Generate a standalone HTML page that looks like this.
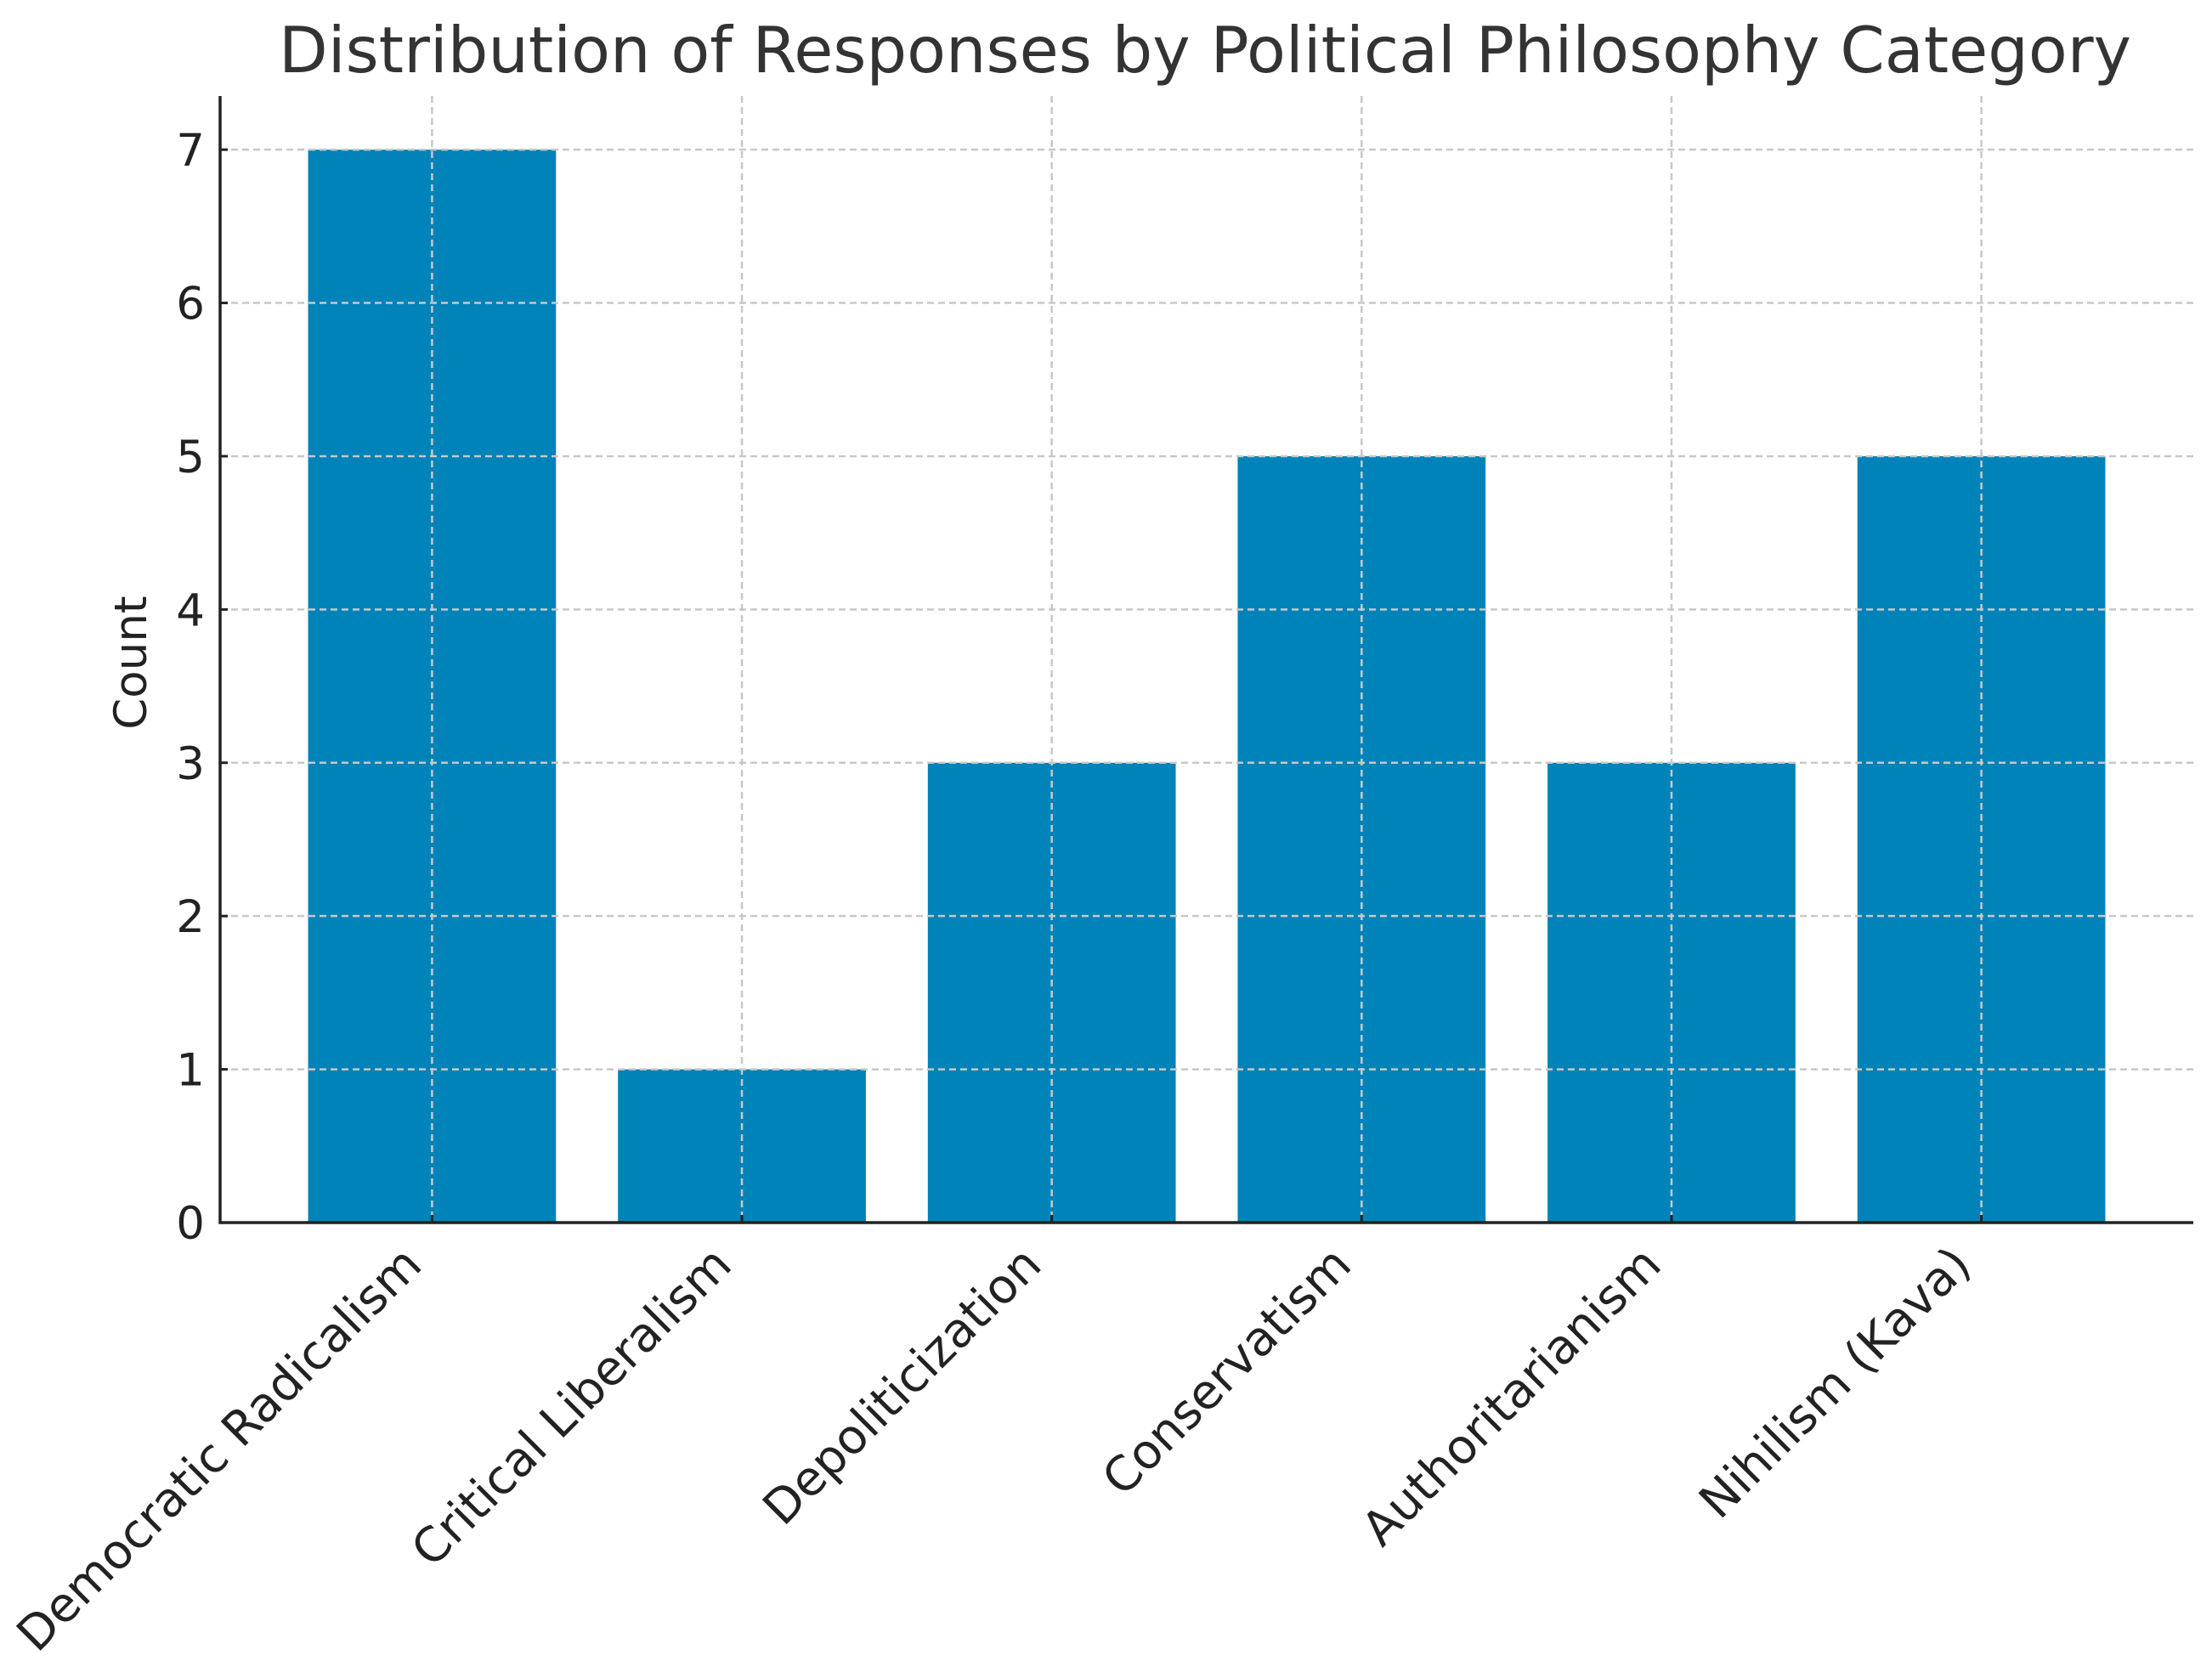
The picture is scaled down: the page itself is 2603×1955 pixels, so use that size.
<!DOCTYPE html>
<html><head><meta charset="utf-8"><style>
html,body{margin:0;padding:0;background:#fff;}
svg{display:block;font-family:"DejaVu Sans","Liberation Sans",sans-serif;}
</style></head><body>
<svg id="chart" width="2603" height="1955" viewBox="0 0 2603 1955" xmlns="http://www.w3.org/2000/svg">
<text x="1418" y="85" font-size="75" fill="#333" text-anchor="middle">Distribution of Responses by Political Philosophy Category</text>
<text transform="translate(172,780) rotate(-90)" font-size="53" fill="#222" text-anchor="middle">Count</text>
<g id="grid"></g><g id="bars"></g><g id="gridtop"></g><g id="axes"></g>
</svg>
<script>
const categories = ["Democratic Radicalism","Critical Liberalism","Depoliticization","Conservatism","Authoritarianism","Nihilism (Kava)"];
const counts = [7,1,3,5,3,5];
const yTicks = [0,1,2,3,4,5,6,7];

const NS="http://www.w3.org/2000/svg";
const L=259,R=2581,T=113,B=1439;
const xMin=-0.684,xMax=5.684,yMin=0,yMax=7.35;
const xs=i=>L+(i-xMin)/(xMax-xMin)*(R-L);
const ys=v=>B-(v-yMin)/(yMax-yMin)*(B-T);
const bw=0.8*(xs(1)-xs(0));
function mk(tag,attrs,parent){const e=document.createElementNS(NS,tag);for(const k in attrs)e.setAttribute(k,attrs[k]);parent.appendChild(e);return e;}
const bars=document.getElementById('bars'),gt=document.getElementById('gridtop'),ax=document.getElementById('axes');
counts.forEach((v,i)=>{
  const r=mk('rect',{x:xs(i)-bw/2,y:ys(v),width:bw,height:ys(0)-ys(v),fill:'#0083b8'},bars);
  
  
});
yTicks.forEach(t=>{
  const g=mk('line',{x1:L,x2:R,y1:ys(t),y2:ys(t),stroke:'#c8c8c8','stroke-width':2.5,'stroke-dasharray':'8,5'},gt);
  
  
  const tk=mk('line',{x1:L,x2:L+9,y1:ys(t),y2:ys(t),stroke:'#222','stroke-width':3},ax);
  
  
  const lb=mk('text',{x:L-18,y:ys(t)+19,'font-size':53,fill:'#222','text-anchor':'end'},ax);
  lb.textContent=t;
  
  
});
categories.forEach((c,i)=>{
  const g=mk('line',{x1:xs(i),x2:xs(i),y1:T,y2:B,stroke:'#c8c8c8','stroke-width':2.5,'stroke-dasharray':'8,5'},gt);
  
  
  const tk=mk('line',{x1:xs(i),x2:xs(i),y1:B,y2:B-9,stroke:'#222','stroke-width':3},ax);
  
  
  const lb=mk('text',{transform:`translate(${xs(i)-38},${B+24}) rotate(-45)`,'font-size':56,fill:'#222','text-anchor':'end',dy:'0.72em'},ax);
  lb.textContent=c;
  
  
});
const yl=mk('line',{x1:L,x2:L,y1:T,y2:B+1.5,stroke:'#222','stroke-width':3.5},ax);


const xl=mk('line',{x1:L-1.5,x2:R,y1:B,y2:B,stroke:'#222','stroke-width':3.5},ax);


</script>
</body></html>
